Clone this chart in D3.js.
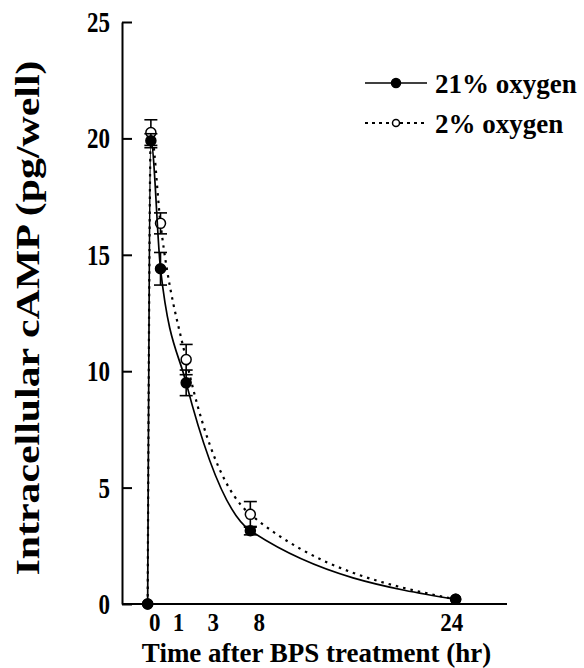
<!DOCTYPE html>
<html>
<head>
<meta charset="utf-8">
<script src="https://cdn.jsdelivr.net/npm/d3@7"></script>
<style>
  body { margin: 0; background: #fff; }
  text { font-family: "Liberation Serif", "Times New Roman", serif; font-weight: bold; fill: #000; }
</style>
</head>
<body>
<div id="app"></div>
<script>
// time after BPS treatment (hr)
const times = [0, 0.25, 1, 3, 8, 24];
// 21% oxygen
const o21 = [0, 19.9, 14.4, 9.5, 3.15, 0.2];
const o21Err = [0, 0.3, 0.7, 0.55, 0.18, 0.05];
// 2% oxygen
const o2 = [0, 20.25, 16.35, 10.5, 3.85, 0.2];
const o2Err = [0, 0.55, 0.45, 0.65, 0.55, 0.05];

const yTicks = [0, 5, 10, 15, 20, 25];
const xTickLabels = ['0', '1', '3', '8', '24'];
// where the x labels sit (hr), spread out a bit like the original
const xLabelAt = [0.55, 2.4, 5.1, 8.7, 23.7];

const W = 584, H = 668;
const plotL = 122, plotR = 507, plotT = 22, plotB = 604;

const svg = d3.select('#app').append('svg').attr('width', W).attr('height', H);

const x = d3.scaleLinear().domain([-2, 28]).range([plotL, plotR]);
const y = d3.scaleLinear().domain([0, 25]).range([plotB, plotT]);

// y axis, ticks pointing inward
svg.append('g')
  .attr('transform', `translate(${plotL},0)`)
  .call(d3.axisLeft(y).tickValues(yTicks).tickSizeInner(-10).tickSizeOuter(0).tickPadding(12))
  .call((g) => {
    g.select('.domain').attr('stroke-width', 2);
    g.selectAll('.tick line').attr('stroke-width', 2);
    g.selectAll('.tick text')
      .attr('font-size', 23)
      .attr('font-family', null)
      .attr('transform', 'scale(1,1.3)');
  });

// x axis line only
svg.append('line')
  .attr('x1', plotL).attr('x2', plotR)
  .attr('y1', plotB).attr('y2', plotB)
  .attr('stroke', '#000').attr('stroke-width', 2);

svg.append('g').selectAll('text')
  .data(xTickLabels)
  .join('text')
  .attr('transform', (d, i) => `translate(${x(xLabelAt[i])},${plotB + 27}) scale(1,1.1)`)
  .attr('text-anchor', 'middle')
  .attr('font-size', 23)
  .text((d) => d);

svg.append('text')
  .attr('transform', `translate(${(plotL + plotR) / 2 + 2},${H - 6}) scale(1,1.05)`)
  .attr('text-anchor', 'middle')
  .attr('font-size', 27)
  .text('Time after BPS treatment (hr)');

svg.append('text')
  .attr('transform', `translate(39,${(plotT + plotB) / 2 + 5}) rotate(-90)`)
  .attr('text-anchor', 'middle')
  .attr('font-size', 34)
  .attr('textLength', 515)
  .attr('lengthAdjust', 'spacingAndGlyphs')
  .text('Intracellular cAMP (pg/well)');

const series = [
  { name: '21% oxygen', vals: o21, err: o21Err, dash: null, open: false },
  { name: '2% oxygen', vals: o2, err: o2Err, dash: '2.5,5', open: true },
];

const line = d3.line()
  .x((d) => x(d[0]))
  .y((d) => y(d[1]))
  .curve(d3.curveMonotoneX);

// open series drawn first so the filled dots sit on top
[series[1], series[0]].forEach((s) => {
  const pts = times.map((t, i) => [t, s.vals[i], s.err[i]]);
  svg.append('path')
    .datum(pts)
    .attr('d', line)
    .attr('fill', 'none')
    .attr('stroke', '#000')
    .attr('stroke-width', s.open ? 2.2 : 1.7)
    .attr('stroke-dasharray', s.dash);

  const eb = svg.append('g').selectAll('g')
    .data(pts.filter((d) => d[2] > 0.1))
    .join('g')
    .attr('stroke', '#000')
    .attr('stroke-width', 1.6);
  eb.append('line')
    .attr('x1', (d) => x(d[0])).attr('x2', (d) => x(d[0]))
    .attr('y1', (d) => y(d[1] - d[2])).attr('y2', (d) => y(d[1] + d[2]));
  eb.selectAll('line.cap')
    .data((d) => [[d[0], d[1] - d[2]], [d[0], d[1] + d[2]]])
    .join('line')
    .attr('class', 'cap')
    .attr('x1', (d) => x(d[0]) - 6.5).attr('x2', (d) => x(d[0]) + 6.5)
    .attr('y1', (d) => y(d[1])).attr('y2', (d) => y(d[1]));

  svg.append('g').selectAll('circle')
    .data(pts)
    .join('circle')
    .attr('cx', (d) => x(d[0]))
    .attr('cy', (d) => y(d[1]))
    .attr('r', 5)
    .attr('fill', s.open ? '#fff' : '#000')
    .attr('stroke', '#000')
    .attr('stroke-width', 1.5);
});

// legend
const legend = svg.append('g').attr('transform', 'translate(365,83)');
series.forEach((s, i) => {
  const g = legend.append('g').attr('transform', `translate(0,${i * 40})`);
  g.append('line')
    .attr('x1', 0).attr('x2', 62)
    .attr('stroke', '#000')
    .attr('stroke-width', s.open ? 1.8 : 1.7)
    .attr('stroke-dasharray', s.open ? '3,4' : null);
  g.append('circle')
    .attr('cx', 31).attr('r', s.open ? 3.5 : 4.5)
    .attr('fill', s.open ? '#fff' : '#000')
    .attr('stroke', '#000').attr('stroke-width', 1.5);
  g.append('text')
    .attr('x', 70).attr('y', 10)
    .attr('font-size', 27)
    .text(s.name);
});
</script>
</body>
</html>
